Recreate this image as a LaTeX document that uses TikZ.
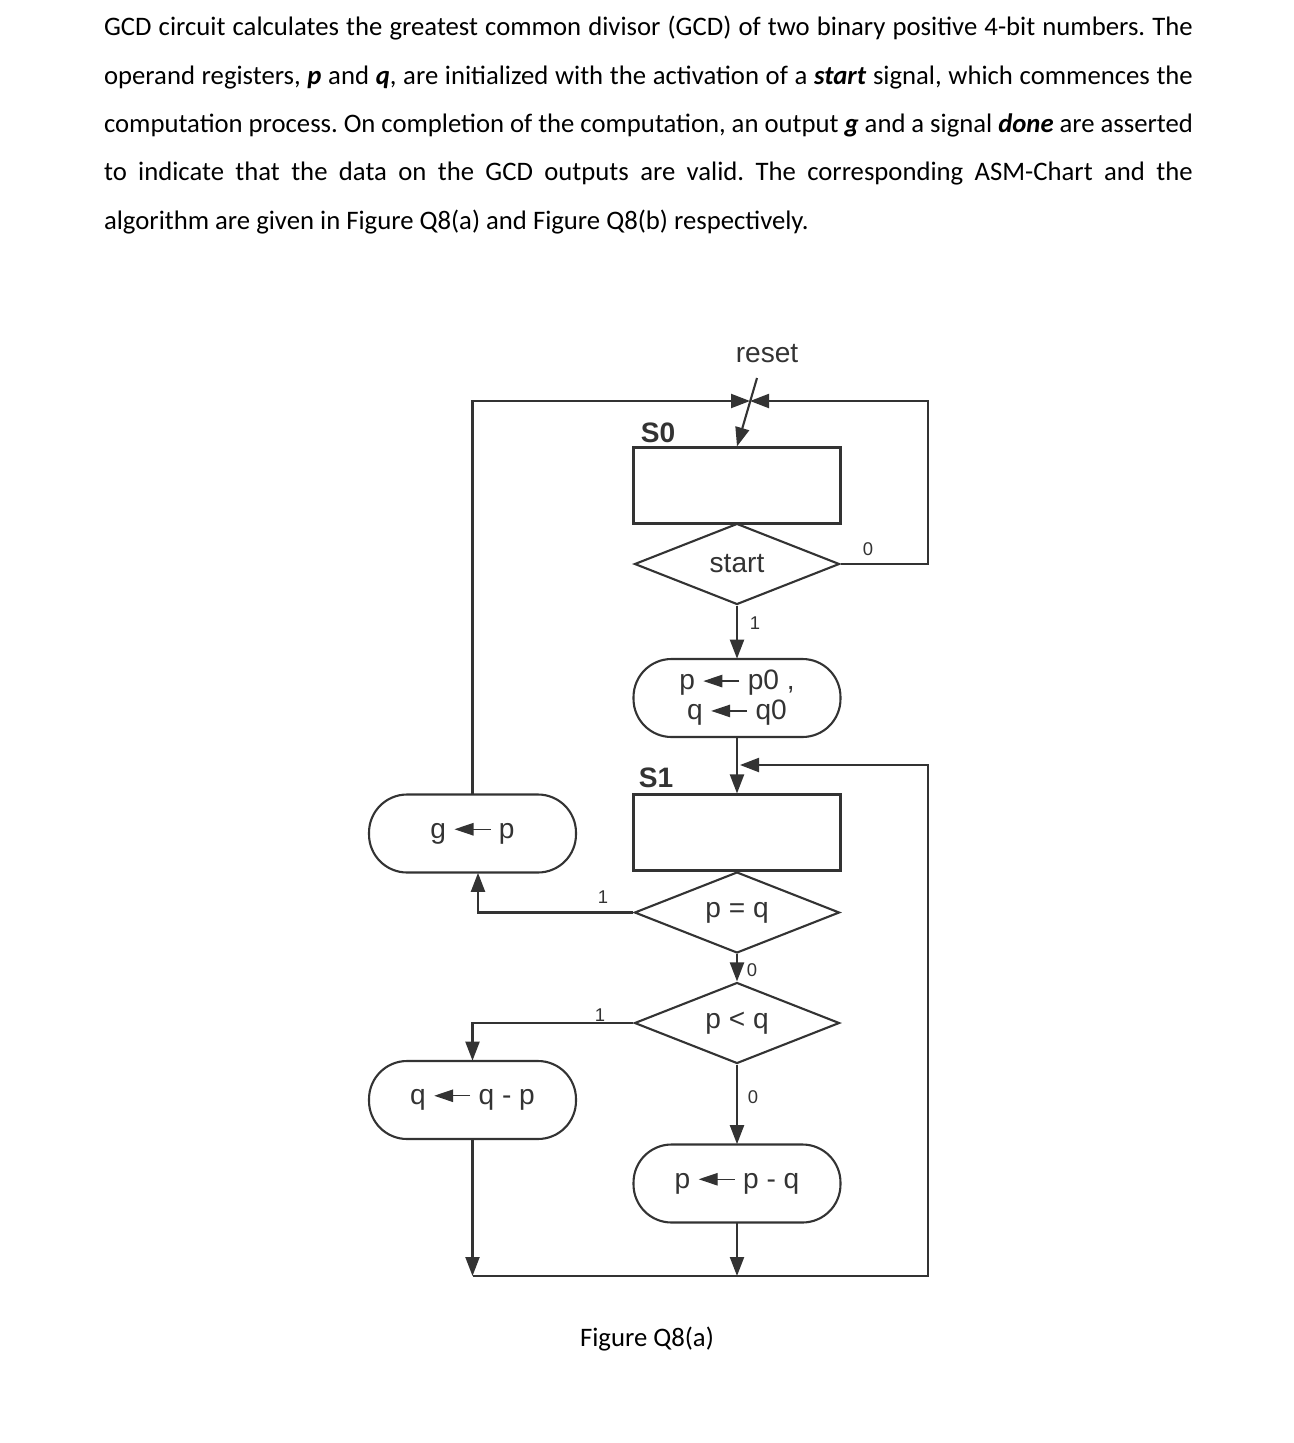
\documentclass[tikz,border=0pt]{standalone}
\usepackage{fontspec}
\setmainfont{Carlito}
\newfontfamily\diagfont{Liberation Sans}
\usetikzlibrary{arrows.meta,shapes.geometric}

% small assignment arrow used inside the boxes
\newcommand{\asg}{\tikz[baseline=-0.6ex]\draw[line width=0.7pt, -{Triangle[length=0.38cm, width=0.25cm]}] (0.72cm,0) -- (0,0);}

\begin{document}
\frenchspacing
\begin{tikzpicture}[x=0.02cm, y=-0.02cm, line width=1.2pt, color=black!80,
    arr/.style = {-{Triangle[length=0.38cm, width=0.28cm]}},
    state/.style = {draw, rectangle, minimum width=4.14cm, minimum height=1.52cm},
    cond/.style = {draw, diamond, aspect=2.5, inner sep=0pt, minimum width=4.1cm, minimum height=1.62cm,
                   font=\diagfont\fontsize{16}{19}\selectfont},
    oper/.style = {draw, rectangle, rounded corners=0.76cm, minimum width=4.14cm, minimum height=1.56cm,
                   align=center, font=\diagfont\fontsize{16}{17}\selectfont},
    lbl/.style = {font=\diagfont\fontsize{10.5}{12}\selectfont, inner sep=0pt},
    sname/.style = {font=\diagfont\bfseries\fontsize{16}{19}\selectfont, inner sep=0pt}]

    \useasboundingbox (0,0) rectangle (1294,1443);

    % Question text
    \node[anchor=base west, text width=21.78cm, align=justify, inner sep=0pt, text=black,
          font=\fontsize{15.2}{27.5}\selectfont] (intro) at (103,36)
        {GCD circuit calculates the greatest common divisor (GCD) of two binary positive 4-bit numbers. The\linebreak
         operand registers, \textbf{\textit{p}} and \textbf{\textit{q}}, are initialized with the activation of a \textbf{\textit{start}} signal, which commences the\linebreak
         computation process. On completion of the computation, an output \textbf{\textit{g}} and a signal \textbf{\textit{done}} are asserted\linebreak
         to indicate that the data on the GCD outputs are valid. The corresponding ASM-Chart and the\linebreak
         algorithm are given in Figure Q8(a) and Figure Q8(b) respectively.};

    % States and decisions
    \node[state] (s0) at (737,485.5) {};
    \node[cond] (start) at (737,564) {start};
    \node[oper] (init) at (737,698) {p \asg\ p0 ,\\ q \asg\ q0};
    \node[state] (s1) at (737,832.5) {};
    \node[cond] (peq) at (737,912.5) {p = q};
    \node[cond] (plt) at (737,1023) {p < q};
    \node[oper] (gout) at (472.5,833.5) {g \asg\ p};
    \node[oper] (qsub) at (472.5,1100) {q \asg\ q - p};
    \node[oper] (psub) at (737,1183.5) {p \asg\ p - q};

    % State names
    \node[sname] (s0name) at (658,433) {S0};
    \node[sname] (s1name) at (656,778) {S1};

    % Reset
    \node[font=\diagfont\fontsize{16}{19}\selectfont] (reset) at (767,354) {reset};
    \coordinate (rs) at (757,378);
    \draw[arr] (rs) -- (s0.north);

    % Some coordinates
    \coordinate (jn) at (750,401);
    \coordinate (tr) at (928,401);
    \coordinate (bl) at (472.5,1276);
    \coordinate (bm) at (737,1276);
    \coordinate (br) at (928,1276);
    \coordinate (mr) at (928,765);
    \coordinate (mj) at (740,765);

    % Back to S0
    \draw[arr] (gout.north) |- (jn);
    \draw[arr] (start.east) -| (tr) -- (jn);
    \node[lbl] (l0) at (868,549) {0};

    % Forward flow
    \draw[arr] (start.south) -- (init.north);
    \node[lbl] (l1) at (755,623) {1};
    \draw[arr] (init.south) -- (s1.north);
    \draw[arr] (peq.west) -| ([xshift=0.11cm]gout.south);
    \node[lbl] (l2) at (603,897) {1};
    \draw[arr] (peq.south) -- (plt.north);
    \node[lbl] (l3) at (752,970) {0};
    \draw[arr] (plt.west) -| (qsub.north);
    \node[lbl] (l4) at (600,1015) {1};
    \draw[arr] (plt.south) -- (psub.north);
    \node[lbl] (l5) at (753,1097) {0};

    % Back to S1
    \draw[arr] (qsub.south) -- (bl);
    \draw[arr] (psub.south) -- (bm);
    \draw[arr] (bl) -- (br) -- (mr) -- (mj);

    % Caption
    \node[text=black, font=\fontsize{15.2}{18}\selectfont] (cap) at (647,1339) {Figure Q8(a)};
\end{tikzpicture}
\end{document}
